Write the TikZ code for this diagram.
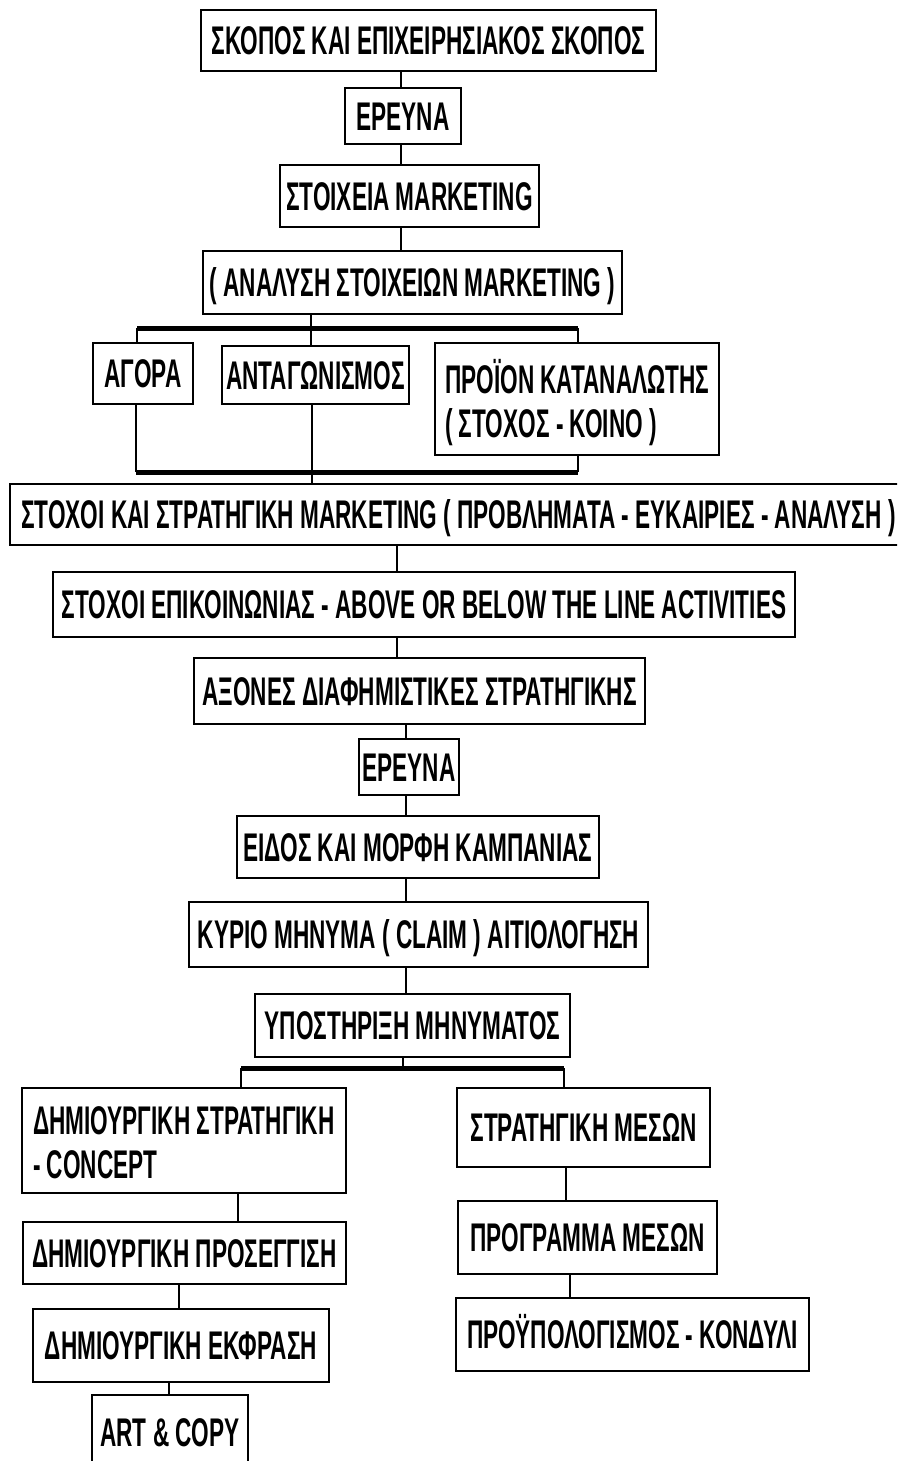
\documentclass[tikz,border=0pt]{standalone}
\usepackage{fontspec}
\setmainfont[FakeStretch=0.565]{Liberation Sans}
\begin{document}
\begin{tikzpicture}[x=1pt,y=-1pt,
  box/.style={draw, line width=2pt, inner sep=0pt, text height=28.6pt, text depth=0pt,
    font=\fontsize{40}{44}\selectfont\bfseries},
  txt/.style={inner sep=0pt, font=\fontsize{40}{44}\selectfont\bfseries},
  conn/.style={line width=2.6pt},
  bus/.style={line width=5pt}]
\useasboundingbox (0,0) rectangle (897,1461);
\clip (0,0) rectangle (897,1461);
% boxes
\node[box, minimum width=455pt, minimum height=61pt] (b1) at (428.5,40.5) {ΣΚΟΠΟΣ ΚΑΙ ΕΠΙΧΕΙΡΗΣΙΑΚΟΣ ΣΚΟΠΟΣ};
\node[box, minimum width=116pt, minimum height=56pt] (b2) at (403,116) {ΕΡΕΥΝΑ};
\node[box, minimum width=259pt, minimum height=62pt] (b3) at (409.5,196) {ΣΤΟΙΧΕΙΑ MARKETING};
\node[box, minimum width=419pt, minimum height=63pt] (b4) at (412.5,282.5) {( ΑΝΑΛΥΣΗ ΣΤΟΙΧΕΙΩΝ MARKETING )};
\node[box, minimum width=100pt, minimum height=61pt] (b5) at (143,373.5) {ΑΓΟΡΑ};
\node[box, minimum width=187pt, minimum height=58pt] (b6) at (315.5,375) {ΑΝΤΑΓΩΝΙΣΜΟΣ};
\node[box, minimum width=284pt, minimum height=112pt] (b7) at (577,399) {};
\node[txt, anchor=base west] (b7l1) at (445,393) {ΠΡΟΪΟΝ ΚΑΤΑΝΑΛΩΤΗΣ};
\node[txt, anchor=base west] (b7l2) at (445,437) {( ΣΤΟΧΟΣ - ΚΟΙΝΟ )};
\node[box, minimum width=897pt, minimum height=61pt] (b8) at (458.5,514.5) {ΣΤΟΧΟΙ ΚΑΙ ΣΤΡΑΤΗΓΙΚΗ MARKETING ( ΠΡΟΒΛΗΜΑΤΑ - ΕΥΚΑΙΡΙΕΣ - ΑΝΑΛΥΣΗ )};
\node[box, minimum width=742pt, minimum height=65pt] (b9) at (424,604.5) {ΣΤΟΧΟΙ ΕΠΙΚΟΙΝΩΝΙΑΣ - ABOVE OR BELOW THE LINE ACTIVITIES};
\node[box, minimum width=451pt, minimum height=66pt] (b10) at (419.5,691) {ΑΞΟΝΕΣ ΔΙΑΦΗΜΙΣΤΙΚΕΣ ΣΤΡΑΤΗΓΙΚΗΣ};
\node[box, minimum width=100pt, minimum height=56pt] (b11) at (409,767) {ΕΡΕΥΝΑ};
\node[box, minimum width=362pt, minimum height=62pt] (b12) at (418,847) {ΕΙΔΟΣ ΚΑΙ ΜΟΡΦΗ ΚΑΜΠΑΝΙΑΣ};
\node[box, minimum width=459pt, minimum height=65pt] (b13) at (418.5,934.5) {ΚΥΡΙΟ ΜΗΝΥΜΑ ( CLAIM ) ΑΙΤΙΟΛΟΓΗΣΗ};
\node[box, minimum width=315pt, minimum height=63pt] (b14) at (412.5,1025.5) {ΥΠΟΣΤΗΡΙΞΗ ΜΗΝΥΜΑΤΟΣ};
\node[box, minimum width=324pt, minimum height=105pt] (b15) at (184,1140.5) {};
\node[txt, anchor=base west] (b15l1) at (33,1134) {ΔΗΜΙΟΥΡΓΙΚΗ ΣΤΡΑΤΗΓΙΚΗ};
\node[txt, anchor=base west] (b15l2) at (33,1178) {- CONCEPT};
\node[box, minimum width=253pt, minimum height=79pt] (b16) at (583.5,1127.5) {ΣΤΡΑΤΗΓΙΚΗ ΜΕΣΩΝ};
\node[box, minimum width=323pt, minimum height=62pt] (b17) at (184.5,1253) {ΔΗΜΙΟΥΡΓΙΚΗ ΠΡΟΣΕΓΓΙΣΗ};
\node[box, minimum width=259pt, minimum height=73pt] (b18) at (587.5,1237.5) {ΠΡΟΓΡΑΜΜΑ ΜΕΣΩΝ};
\node[box, minimum width=296pt, minimum height=73pt] (b19) at (181,1345.5) {ΔΗΜΙΟΥΡΓΙΚΗ ΕΚΦΡΑΣΗ};
\node[box, minimum width=353pt, minimum height=73pt] (b20) at (632.5,1334.5) {ΠΡΟΫΠΟΛΟΓΙΣΜΟΣ - ΚΟΝΔΥΛΙ};
\node[box, minimum width=156pt, minimum height=100pt] (b21) at (170,1445) {};
\node[txt, anchor=base] (b21t) at (170,1446) {ART \& COPY};
% column coordinates
\coordinate (c401) at (401,0);
\coordinate (c311) at (311,0);
\coordinate (c397) at (397,0);
\coordinate (c406) at (406,0);
\coordinate (c403) at (403,0);
\coordinate (c238) at (238,0);
\coordinate (c179) at (179,0);
\coordinate (c169) at (169,0);
\coordinate (c566) at (566,0);
\coordinate (c570) at (570,0);
% bus ends
\coordinate (tb1) at (137,328);
\coordinate (tb2) at (578,328);
\coordinate (tbm) at (311,328);
\coordinate (lb1) at (136,472);
\coordinate (lb2) at (578,472);
\coordinate (lbm) at (312,472);
\coordinate (mb1) at (241,1068);
\coordinate (mb2) at (564,1068);
\coordinate (mbm) at (403,1068);
% main chain
\draw[conn] (b1.south -| c401) -- (b2.north -| c401);
\draw[conn] (b2.south -| c401) -- (b3.north -| c401);
\draw[conn] (b3.south -| c401) -- (b4.north -| c401);
\draw[conn] (b4.south -| c311) -- (tbm);
\draw[bus] (tb1) -- (tb2);
\draw[conn] (tb1) -- (b5.north -| tb1);
\draw[conn] (tbm) -- (b6.north -| tbm);
\draw[conn] (tb2) -- (b7.north -| tb2);
\draw[conn] (b5.south -| lb1) -- (lb1);
\draw[conn] (b6.south -| lbm) -- (b8.north -| lbm);
\draw[conn] (b7.south -| lb2) -- (lb2);
\draw[bus] (lb1) -- (lb2);
\draw[conn] (b8.south -| c397) -- (b9.north -| c397);
\draw[conn] (b9.south -| c397) -- (b10.north -| c397);
\draw[conn] (b10.south -| c406) -- (b11.north -| c406);
\draw[conn] (b11.south -| c406) -- (b12.north -| c406);
\draw[conn] (b12.south -| c406) -- (b13.north -| c406);
\draw[conn] (b13.south -| c406) -- (b14.north -| c406);
\draw[conn] (b14.south -| c403) -- (mbm);
\draw[bus] (mb1) -- (mb2);
\draw[conn] (mb1) -- (b15.north -| mb1);
\draw[conn] (mb2) -- (b16.north -| mb2);
\draw[conn] (b15.south -| c238) -- (b17.north -| c238);
\draw[conn] (b17.south -| c179) -- (b19.north -| c179);
\draw[conn] (b19.south -| c169) -- (b21.north -| c169);
\draw[conn] (b16.south -| c566) -- (b18.north -| c566);
\draw[conn] (b18.south -| c570) -- (b20.north -| c570);
\end{tikzpicture}
\end{document}
